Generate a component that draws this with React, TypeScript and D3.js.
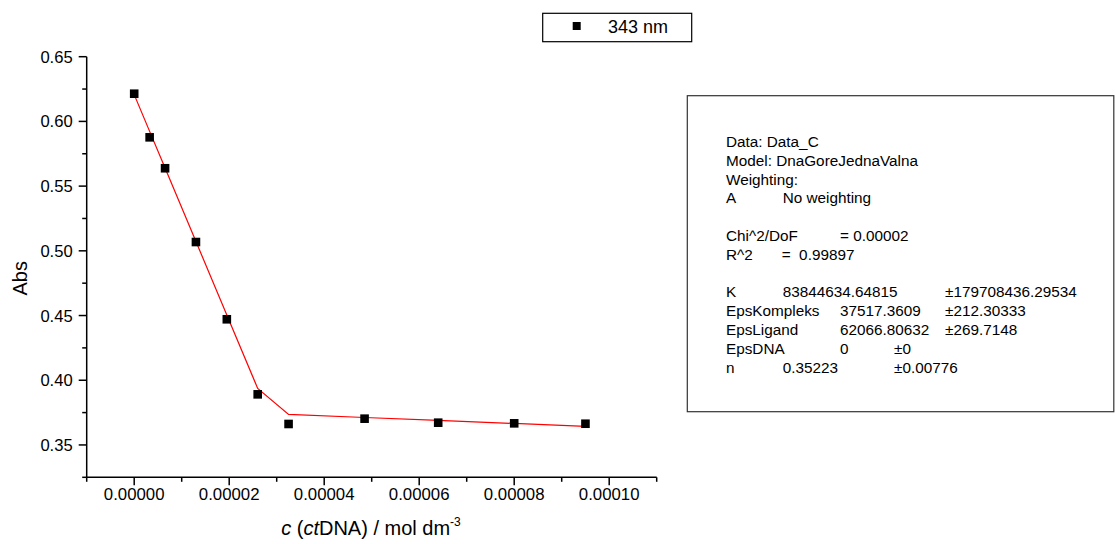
import React from "react";
import * as d3 from "d3";

const concentrations = [0, 3.25e-6, 6.5e-6, 1.3e-5, 1.95e-5, 2.6e-5, 3.25e-5, 4.85e-5, 6.4e-5, 8.0e-5, 9.5e-5];
const absorbance = [0.6214, 0.5877, 0.5638, 0.5068, 0.4471, 0.3891, 0.3662, 0.3703, 0.3672, 0.3667, 0.3664];
const fitValues = [0.6207, 0.5923, 0.564, 0.5072, 0.4504, 0.3937, 0.3736, 0.3712, 0.369, 0.3666, 0.3644];

const xMajorTicks = [0, 2e-5, 4e-5, 6e-5, 8e-5, 1e-4];
const xMinorTicks = [-1e-5, 1e-5, 3e-5, 5e-5, 7e-5, 9e-5, 1.1e-4];
const yMajorTicks = [0.35, 0.4, 0.45, 0.5, 0.55, 0.6, 0.65];
const yMinorTicks = [0.325, 0.375, 0.425, 0.475, 0.525, 0.575, 0.625];

const legendLabel = "343 nm";
const yTitle = "Abs";

const statsRows: string[][] = [
  ["Data: Data_C"],
  ["Model: DnaGoreJednaValna"],
  ["Weighting:"],
  ["A", "No weighting"],
  [],
  ["Chi^2/DoF", "= 0.00002"],
  ["R^2", "=  0.99897"],
  [],
  ["K", "83844634.64815", "±179708436.29534"],
  ["EpsKompleks", "37517.3609", "±212.30333"],
  ["EpsLigand", "62066.80632", "±269.7148"],
  ["EpsDNA", "0", "±0"],
  ["n", "0.35223", "±0.00776"],
];

const FONT = "'Liberation Sans', Arial, Helvetica, sans-serif";

export default function App() {
  const W = 1115;
  const H = 544;
  const x = d3.scaleLinear().domain([-1e-5, 1.1e-4]).range([86.7, 656.7]);
  const y = d3.scaleLinear().domain([0.325, 0.65]).range([477.3, 56.7]);

  const pts = concentrations.map((c, i) => ({ c, a: absorbance[i], f: fitValues[i] }));
  const fitLine = d3
    .line<{ c: number; f: number }>()
    .x((d) => x(d.c))
    .y((d) => y(d.f));

  const fmtX = (v: number) => v.toFixed(5);
  const fmtY = (v: number) => v.toFixed(2);

  // column layouts for the stats box rows
  const colX: number[][] = [
    [726],
    [726],
    [726],
    [726, 782.7],
    [],
    [726, 840],
    [726, 781.7],
    [],
    [726, 782.7, 945],
    [726, 840, 945],
    [726, 840, 945],
    [726, 840, 894],
    [726, 782.7, 894],
  ];
  const statsTop = 147;
  const statsStep = 18.8;
  const ms = 8.6;

  return (
    <svg
      width={W}
      height={H}
      style={{ position: "absolute", left: 0, top: 0, background: "#fff" }}
      fontFamily={FONT}
    >
      <rect x={0} y={0} width={W} height={H} fill="#fff" />

      {/* axes */}
      <line x1={x(-1e-5)} x2={x(1.1e-4)} y1={y(0.325)} y2={y(0.325)} stroke="#000" strokeWidth={1.5} />
      <line x1={x(-1e-5)} x2={x(-1e-5)} y1={y(0.325)} y2={y(0.65)} stroke="#000" strokeWidth={1.5} />

      {xMajorTicks.map((t) => (
        <g key={"xm" + t}>
          <line x1={x(t)} x2={x(t)} y1={y(0.325)} y2={y(0.325) + 8} stroke="#000" strokeWidth={1.5} />
          <text x={x(t)} y={y(0.325) + 23} fontSize={16.8} textAnchor="middle" fill="#000">
            {fmtX(t)}
          </text>
        </g>
      ))}
      {xMinorTicks.map((t) => (
        <line key={"xn" + t} x1={x(t)} x2={x(t)} y1={y(0.325)} y2={y(0.325) + 4.5} stroke="#000" strokeWidth={1.5} />
      ))}
      {yMajorTicks.map((t) => (
        <g key={"ym" + t}>
          <line x1={x(-1e-5) - 8} x2={x(-1e-5)} y1={y(t)} y2={y(t)} stroke="#000" strokeWidth={1.5} />
          <text x={72.7} y={y(t) + 6} fontSize={16.6} textAnchor="end" fill="#000">
            {fmtY(t)}
          </text>
        </g>
      ))}
      {yMinorTicks.map((t) => (
        <line key={"yn" + t} x1={x(-1e-5) - 4.5} x2={x(-1e-5)} y1={y(t)} y2={y(t)} stroke="#000" strokeWidth={1.5} />
      ))}

      {/* axis titles */}
      <text
        transform={`translate(26.5, ${278.3}) rotate(-90)`}
        fontSize={20}
        textAnchor="middle"
        fill="#000"
      >
        {yTitle}
      </text>
      <text x={371} y={535} fontSize={20} textAnchor="middle" fill="#000">
        <tspan fontStyle="italic">c</tspan>
        <tspan> (</tspan>
        <tspan fontStyle="italic">ct</tspan>
        <tspan>DNA) / mol dm</tspan>
        <tspan fontSize={12} dy={-9}>-3</tspan>
      </text>

      {/* fit line */}
      <path d={fitLine(pts) || ""} fill="none" stroke="#ff0000" strokeWidth={1.2} />

      {/* data points */}
      {pts.map((p, i) => (
        <rect key={i} x={x(p.c) - ms / 2} y={y(p.a) - ms / 2} width={ms} height={ms} fill="#000" />
      ))}

      {/* legend */}
      <rect x={542.7} y={13.3} width={149} height={28.4} fill="#fff" stroke="#000" strokeWidth={1.2} />
      <rect x={576.7 - 4} y={26 - 4} width={8} height={8} fill="#000" />
      <text x={608} y={33} fontSize={18} fill="#000">
        {legendLabel}
      </text>

      {/* stats box */}
      <rect x={687.3} y={95.7} width={426.5} height={316} fill="#fff" stroke="#333" strokeWidth={1.2} />
      {statsRows.map((row, ri) =>
        row.map((txt, ci) => (
          <text
            key={ri + "-" + ci}
            x={colX[ri][ci]}
            y={statsTop + ri * statsStep}
            fontSize={15.3}
            fill="#000"
            style={{ whiteSpace: "pre" }}
          >
            {txt}
          </text>
        ))
      )}
    </svg>
  );
}
